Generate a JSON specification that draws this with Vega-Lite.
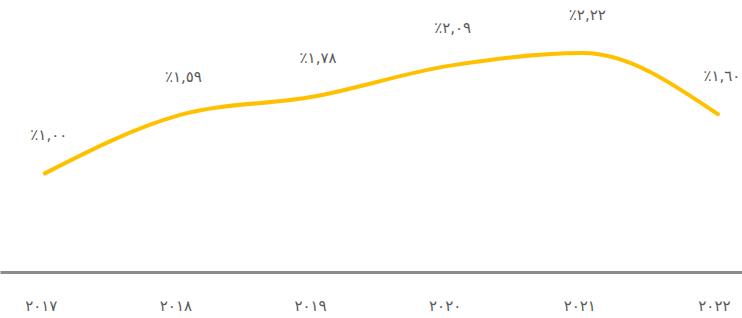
{
  "$schema": "https://vega.github.io/schema/vega-lite/v6.json",
  "width": 742,
  "height": 272,
  "padding": {"left": 0, "right": 0, "top": 0, "bottom": 46},
  "autosize": {"type": "none"},
  "background": "white",
  "config": {"view": {"stroke": null}},
  "data": {"values": [
    {"year": "٢٠١٧", "value": 1.00, "label": "٪١,٠٠"},
    {"year": "٢٠١٨", "value": 1.59, "label": "٪١,٥٩"},
    {"year": "٢٠١٩", "value": 1.78, "label": "٪١,٧٨"},
    {"year": "٢٠٢٠", "value": 2.09, "label": "٪٢,٠٩"},
    {"year": "٢٠٢١", "value": 2.22, "label": "٪٢,٢٢"},
    {"year": "٢٠٢٢", "value": 1.60, "label": "٪١,٦٠"}
  ]},
  "encoding": {
    "x": {"field": "year", "type": "ordinal", "sort": null,
      "scale": {"type": "point", "padding": 0.256, "align": 0.65},
      "axis": {"title": null, "labelAngle": 0, "ticks": false, "grid": false,
        "domainColor": "#8c8c8c", "domainWidth": 3, "labelPadding": 26,
        "labelFont": "DejaVu Sans", "labelFontSize": 15, "labelColor": "#595959", "labelOffset": -4}},
    "y": {"field": "value", "type": "quantitative",
      "scale": {"domain": [0, 2.758], "nice": false, "zero": true},
      "axis": null}
  },
  "layer": [
    {"mark": {"type": "line", "interpolate": "monotone", "color": "#FFC000", "strokeWidth": 4, "strokeCap": "round"}},
    {"mark": {"type": "text", "dy": -38, "dx": 4, "font": "DejaVu Sans", "fontSize": 15, "color": "#595959"},
      "encoding": {"text": {"field": "label"}}}
  ]
}
